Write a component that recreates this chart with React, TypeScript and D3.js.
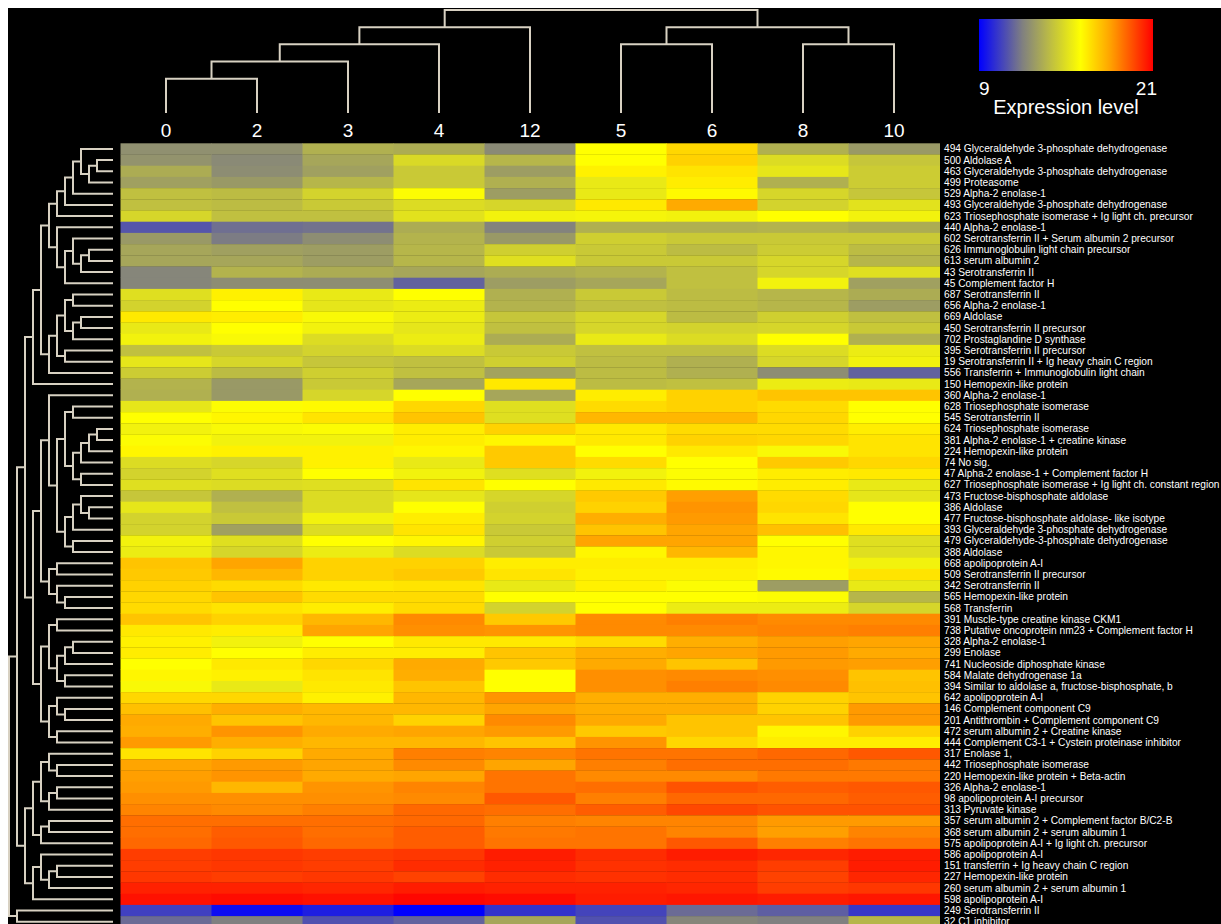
import React from 'react';
import * as d3 from 'd3';

// column order as shown (after clustering)
const sampleLabels = ['0', '2', '3', '4', '12', '5', '6', '8', '10'];

const spotLabels = [
  '494 Glyceraldehyde 3-phosphate dehydrogenase',
  '500 Aldolase A',
  '463 Glyceraldehyde 3-phosphate dehydrogenase',
  '499 Proteasome',
  '529 Alpha-2 enolase-1',
  '493 Glyceraldehyde 3-phosphate dehydrogenase',
  '623 Triosephosphate isomerase + Ig light ch. precursor',
  '440 Alpha-2 enolase-1',
  '602 Serotransferrin II + Serum albumin 2 precursor',
  '626 Immunoglobulin light chain precursor',
  '613 serum albumin 2',
  '43 Serotransferrin II',
  '45 Complement factor H',
  '687 Serotransferrin II',
  '656 Alpha-2 enolase-1',
  '669 Aldolase',
  '450 Serotransferrin II precursor',
  '702 Prostaglandine D synthase',
  '395 Serotransferrin II precursor',
  '19 Serotransferrin II + Ig heavy chain C region',
  '556 Transferrin + Immunoglobulin light chain',
  '150 Hemopexin-like protein',
  '360 Alpha-2 enolase-1',
  '628 Triosephosphate isomerase',
  '545 Serotransferrin II',
  '624 Triosephosphate isomerase',
  '381 Alpha-2 enolase-1 + creatine kinase',
  '224 Hemopexin-like protein',
  '74 No sig.',
  '47 Alpha-2 enolase-1 + Complement factor H',
  '627 Triosephosphate isomerase + Ig light ch. constant region',
  '473 Fructose-bisphosphate aldolase',
  '386 Aldolase',
  '477 Fructose-bisphosphate aldolase- like isotype',
  '393 Glyceraldehyde 3-phosphate dehydrogenase',
  '479 Glyceraldehyde-3-phosphate dehydrogenase',
  '388 Aldolase',
  '668 apolipoprotein A-I',
  '509 Serotransferrin II precursor',
  '342 Serotransferrin II',
  '565 Hemopexin-like protein',
  '568 Transferrin',
  '391 Muscle-type creatine kinase CKM1',
  '738 Putative oncoprotein nm23 + Complement factor H',
  '328 Alpha-2 enolase-1',
  '299 Enolase',
  '741 Nucleoside diphosphate kinase',
  '584 Malate dehydrogenase 1a',
  '394 Similar to aldolase a, fructose-bisphosphate, b',
  '642 apolipoprotein A-I',
  '146 Complement component C9',
  '201 Antithrombin + Complement component C9',
  '472 serum albumin 2 + Creatine kinase',
  '444 Complement C3-1 + Cystein proteinase inhibitor',
  '317 Enolase 1,',
  '442 Triosephosphate isomerase',
  '220 Hemopexin-like protein + Beta-actin',
  '326 Alpha-2 enolase-1',
  '98 apolipoprotein A-I precursor',
  '313 Pyruvate kinase',
  '357 serum albumin 2 + Complement factor B/C2-B',
  '368 serum albumin 2 + serum albumin 1',
  '575 apolipoprotein A-I + Ig light ch. precursor',
  '586 apolipoprotein A-I',
  '151 transferrin + Ig heavy chain C region',
  '227 Hemopexin-like protein',
  '260 serum albumin 2 + serum albumin 1',
  '598 apolipoprotein A-I',
  '249 Serotransferrin II',
  '32 C1 inhibitor',
];

// expression level per spot, columns in sampleLabels order
const expression = [
  [12.5, 12.5, 13.5, 13.4, 12.3, 16.0, 16.9, 13.5, 12.8],
  [12.6, 12.3, 13.2, 14.8, 13.7, 16.0, 17.0, 14.9, 14.2],
  [13.4, 12.4, 13.0, 14.3, 12.9, 16.3, 16.6, 15.2, 14.4],
  [13.0, 12.8, 13.7, 14.3, 13.5, 15.3, 16.4, 13.5, 14.4],
  [14.0, 13.9, 14.6, 15.9, 12.9, 15.3, 16.1, 14.7, 14.2],
  [14.0, 13.9, 14.3, 14.9, 14.7, 16.5, 17.9, 14.6, 15.1],
  [14.7, 14.0, 14.0, 15.1, 15.6, 15.7, 15.6, 16.0, 15.6],
  [11.0, 11.6, 11.7, 13.4, 12.1, 13.5, 13.5, 13.6, 13.4],
  [12.8, 11.9, 12.4, 13.6, 12.8, 14.5, 14.3, 14.3, 14.3],
  [13.2, 13.0, 12.9, 13.7, 14.5, 14.3, 13.9, 14.4, 13.9],
  [13.2, 13.2, 12.9, 13.7, 15.0, 14.3, 14.3, 14.7, 13.7],
  [12.2, 13.6, 13.4, 13.2, 13.4, 13.6, 14.0, 14.7, 15.0],
  [12.2, 12.4, 12.4, 11.3, 12.9, 13.2, 14.0, 15.6, 13.0],
  [15.0, 16.3, 15.3, 16.0, 13.5, 14.3, 13.9, 13.7, 13.4],
  [14.6, 16.0, 15.2, 15.4, 13.6, 14.0, 13.9, 13.7, 12.9],
  [16.5, 16.4, 15.8, 15.4, 14.2, 14.7, 13.9, 14.5, 14.0],
  [15.3, 16.0, 15.6, 15.2, 14.0, 14.7, 14.6, 14.7, 14.3],
  [15.6, 15.8, 14.9, 15.4, 13.4, 15.3, 14.9, 16.0, 13.5],
  [14.0, 14.3, 14.6, 14.9, 14.3, 14.0, 14.0, 14.9, 15.4],
  [15.2, 14.7, 14.2, 14.0, 14.5, 13.9, 13.5, 14.7, 15.6],
  [14.4, 13.9, 14.5, 14.0, 13.1, 13.9, 13.5, 12.4, 11.3],
  [13.6, 12.8, 14.3, 13.2, 16.5, 13.9, 14.0, 15.4, 15.3],
  [13.5, 12.8, 14.7, 16.0, 13.2, 16.4, 17.0, 17.3, 17.3],
  [15.2, 15.9, 16.1, 16.9, 15.0, 16.8, 17.0, 16.8, 16.0],
  [16.0, 16.2, 16.6, 17.3, 15.0, 17.6, 17.6, 16.9, 16.0],
  [15.6, 15.8, 15.9, 16.4, 17.0, 16.5, 16.8, 16.8, 16.4],
  [15.9, 15.6, 15.6, 16.4, 16.2, 16.5, 17.0, 16.9, 16.6],
  [16.2, 16.3, 16.3, 16.2, 17.2, 16.0, 16.5, 15.8, 16.6],
  [14.9, 14.7, 16.3, 15.3, 17.2, 16.8, 16.0, 17.2, 16.9],
  [14.6, 15.0, 16.0, 15.6, 15.0, 15.6, 15.9, 16.4, 16.5],
  [15.0, 14.9, 15.0, 16.6, 16.0, 16.5, 16.1, 16.4, 15.3],
  [14.2, 13.5, 14.9, 15.2, 14.7, 17.2, 18.1, 16.8, 15.2],
  [15.2, 14.0, 14.9, 16.0, 14.5, 17.0, 18.3, 16.9, 16.0],
  [14.6, 14.3, 15.6, 16.4, 14.6, 17.8, 18.2, 16.6, 16.0],
  [14.6, 13.0, 14.9, 16.6, 14.3, 17.3, 18.0, 17.4, 16.5],
  [15.6, 15.0, 16.0, 16.2, 14.5, 18.0, 18.0, 16.0, 15.0],
  [15.4, 14.7, 15.4, 14.9, 14.3, 16.2, 17.6, 16.2, 15.0],
  [17.3, 18.0, 17.0, 17.0, 16.4, 16.4, 16.4, 16.2, 15.6],
  [17.2, 17.6, 17.0, 17.2, 16.6, 16.3, 16.3, 16.1, 16.6],
  [17.0, 16.8, 16.5, 16.6, 15.3, 16.3, 15.9, 12.9, 15.3],
  [16.9, 17.3, 16.8, 16.8, 16.0, 16.0, 16.0, 15.9, 13.7],
  [16.8, 16.6, 16.4, 16.8, 14.6, 16.0, 15.4, 15.4, 14.7],
  [17.3, 17.0, 17.6, 18.5, 17.2, 18.5, 18.7, 18.5, 18.5],
  [16.5, 16.4, 18.0, 18.4, 18.3, 18.5, 18.5, 18.6, 18.7],
  [16.3, 15.6, 16.0, 16.5, 16.5, 16.8, 17.8, 18.1, 18.0],
  [16.4, 16.0, 16.4, 16.4, 17.3, 17.8, 18.0, 18.2, 17.9],
  [16.0, 16.5, 16.9, 17.9, 17.2, 17.9, 17.3, 18.2, 18.1],
  [16.2, 16.3, 16.6, 17.8, 16.0, 18.4, 18.5, 18.4, 17.3],
  [15.8, 15.3, 16.5, 17.3, 16.0, 18.4, 18.7, 18.5, 17.4],
  [16.9, 16.9, 16.3, 17.6, 18.3, 17.8, 17.8, 17.0, 17.3],
  [17.4, 17.8, 17.6, 17.6, 18.0, 17.8, 17.8, 17.0, 18.2],
  [17.9, 17.3, 17.6, 17.0, 18.5, 17.9, 17.3, 17.3, 18.2],
  [17.8, 18.3, 17.9, 18.0, 18.2, 17.2, 17.3, 16.2, 17.0],
  [18.2, 17.8, 17.6, 17.6, 17.3, 18.3, 16.9, 16.4, 16.4],
  [16.6, 17.0, 17.9, 18.7, 18.6, 18.9, 18.9, 19.1, 19.4],
  [18.0, 18.2, 18.0, 18.5, 18.0, 18.7, 19.0, 19.0, 18.8],
  [18.1, 18.3, 17.9, 18.0, 18.9, 18.5, 18.5, 18.8, 18.8],
  [18.2, 17.6, 18.3, 18.6, 18.9, 19.0, 19.5, 19.3, 19.4],
  [18.4, 18.4, 18.4, 18.5, 19.4, 18.7, 19.1, 19.1, 19.3],
  [18.6, 18.5, 18.7, 19.1, 19.0, 19.3, 19.7, 19.5, 19.5],
  [19.0, 19.0, 19.0, 19.1, 18.7, 18.6, 18.6, 18.2, 18.2],
  [19.0, 19.3, 19.0, 19.3, 18.8, 18.9, 18.6, 18.1, 18.6],
  [19.1, 19.4, 19.1, 19.3, 18.9, 18.9, 19.4, 18.7, 18.9],
  [19.9, 20.0, 19.9, 20.0, 20.5, 20.2, 20.5, 20.3, 20.5],
  [19.9, 20.0, 19.9, 20.2, 20.4, 20.1, 20.2, 19.9, 20.5],
  [20.0, 19.9, 20.0, 19.8, 20.2, 20.1, 20.2, 19.8, 20.3],
  [20.4, 20.4, 20.3, 20.5, 20.4, 20.4, 20.3, 19.9, 20.0],
  [20.7, 20.8, 20.7, 20.9, 20.8, 20.5, 20.6, 20.5, 20.6],
  [10.5, 9.3, 9.7, 9.0, 10.2, 10.6, 11.5, 11.2, 10.3],
  [11.5, 12.0, 10.9, 11.3, 13.2, 10.9, 12.2, 12.0, 13.7],
];

// dendrograms: [merge level, left, right]; leaves are 1-based spot numbers / 0-based column numbers
type Tree = number | [number, Tree, Tree];

const sampleTree: Tree = [6,
  [5, [4, [3, [2, 0, 1], 2], 3], 4],
  [5, [4, 5, 6], [4, 7, 8]],
];

const spotTree: Tree = [13,
  [12,
    [11,
      [10,
        [9,
          [8,
            [7, [6, [5, [4, 1, [3, [2, 2, 3], 4]], 5], 6], 7],
            [7, 8, [6, [5, 9, [4, [3, 10, 11], 12]], 13]]],
          [8, [7, [6, [5, 14, 15], [5, [4, 16, 17], 18]], [6, 19, 20]], 21]],
        22],
      [10,
        [9,
          [8, 23,
            [7,
              [6, [5, 24, 25], [5, [4, [3, [2, 26, 27], 28], 29], [4, 30, 31]]],
              [6, [5, [4, 32, [3, 33, 34]], 35], [5, 36, 37]]]],
          [8, [7, 38, 39], [7, 40, [6, 41, 42]]]],
        [9,
          [8, [7, 43, 44], [7, [6, [5, 45, 46], 47], [6, 48, 49]]],
          [8, [7, 50, [6, 51, 52]], [7, 53, 54]]]]],
    [11,
      [10,
        [9, [8, 55, [7, 56, 57]], [8, [7, 58, 59], 60]],
        [9, [8, 61, 62], 63]],
      [10, [9, 64, [8, [7, 65, 66], 67]], 68]]],
  [12, 69, 70],
];

const colorStops = [9, 12, 16, 18, 21];
const colorRange = ['#0000ff', '#808080', '#ffff00', '#ffa500', '#ff0000'];

const W = 1213;
const H = 916;
const heatLeft = 112.5;
const heatTop = 135.3;
const cellW = 91;
const cellH = 11.2;
const lineColor = '#d8d1c2';
const font = '"Liberation Sans", Arial, sans-serif';

function toNode(t: Tree): any {
  return typeof t === 'number' ? { leaf: t } : { h: t[0], children: [toNode(t[1]), toNode(t[2])] };
}

// returns one path per merge: leafPos gives the position along the leaf axis, lev the distance axis
function dendroPaths(t: Tree, leafPos: (i: number) => number, lev: (h: number) => number, vertical: boolean) {
  const root: any = d3.hierarchy(toNode(t));
  root.eachAfter((d: any) => {
    if (!d.children) { d.pos = leafPos(d.data.leaf); d.lev = 0; }
    else { d.pos = (d.children[0].pos + d.children[1].pos) / 2; d.lev = d.data.h; }
  });
  return root.descendants().filter((d: any) => d.children).map((d: any) => {
    const [a, b] = d.children;
    const m = lev(d.lev);
    return vertical
      ? `M${a.pos},${lev(a.lev)}V${m}H${b.pos}V${lev(b.lev)}`
      : `M${lev(a.lev)},${a.pos}H${m}V${b.pos}H${lev(b.lev)}`;
  });
}

export default function App() {
  const x = d3.scaleBand<number>().domain(d3.range(sampleLabels.length))
    .range([heatLeft, heatLeft + cellW * sampleLabels.length]);
  const y = d3.scaleBand<number>().domain(d3.range(spotLabels.length))
    .range([heatTop, heatTop + cellH * spotLabels.length]);
  const color = d3.scaleLinear<string>().domain(colorStops).range(colorRange).clamp(true);

  const rowLev = d3.scaleLinear().domain([0, 13]).range([105, 1]);
  const colLev = d3.scaleLinear().domain([0, 6]).range([105, 2]);

  const rowPaths = dendroPaths(spotTree, i => (y(i - 1) as number) + y.bandwidth() / 2, rowLev, false);
  const colPaths = dendroPaths(sampleTree, i => (x(i) as number) + x.bandwidth() / 2, colLev, true);

  const legX = d3.scaleLinear().domain([9, 21]).range([971, 1145]);

  return (
    <svg width={W} height={H} style={{ position: 'fixed', left: 8, top: 8, background: '#000' }}>
      <defs>
        <linearGradient id="legendGrad" x1="0" x2="1" y1="0" y2="0">
          {d3.range(9, 21.01, 0.5).map(v => (
            <stop key={v} offset={(v - 9) / 12} stopColor={color(v)} />
          ))}
        </linearGradient>
      </defs>
      <rect width={W} height={H} fill="#000" />

      {expression.map((row, r) => row.map((v, c) => (
        <rect key={`${r}-${c}`} x={x(c)} y={y(r)} width={x.bandwidth() + 0.5} height={y.bandwidth() + 0.3}
          fill={color(v)} />
      )))}

      <g fill="none" stroke={lineColor} strokeWidth={2}>
        {rowPaths.map((d: string, i: number) => <path key={'r' + i} d={d} />)}
        {colPaths.map((d: string, i: number) => <path key={'c' + i} d={d} />)}
      </g>

      {sampleLabels.map((s, i) => (
        <text key={s} x={(x(i) as number) + x.bandwidth() / 2} y={129} fill="#fff"
          fontFamily={font} fontSize={19} textAnchor="middle">{s}</text>
      ))}

      {spotLabels.map((s, i) => (
        <text key={i} x={936} y={(y(i) as number) + y.bandwidth() / 2 + 3.5} fill="#fff"
          fontFamily={font} fontSize={10.2}>{s}</text>
      ))}

      <rect x={legX(9)} y={11} width={legX(21) - legX(9)} height={52} fill="url(#legendGrad)" />
      <text x={legX(9)} y={87} fill="#fff" fontFamily={font} fontSize={19}>9</text>
      <text x={legX(21) + 4} y={87} fill="#fff" fontFamily={font} fontSize={19} textAnchor="end">21</text>
      <text x={(legX(9) + legX(21)) / 2} y={106} fill="#fff" fontFamily={font} fontSize={20}
        textAnchor="middle">Expression level</text>
    </svg>
  );
}
